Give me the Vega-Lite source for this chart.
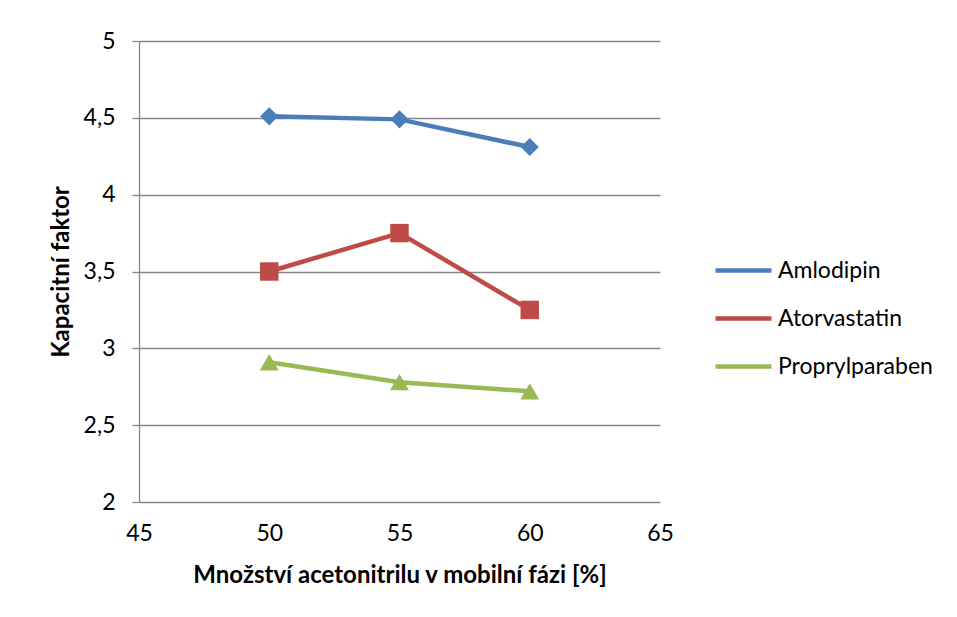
{
  "$schema": "https://vega.github.io/schema/vega-lite/v6.json",
  "width": 521,
  "height": 461,
  "autosize": {"type": "none"},
  "padding": {"left": 139, "top": 41, "right": 297, "bottom": 115},
  "background": "white",
  "config": {
    "locale": {"number": {"decimal": ",", "thousands": " ", "grouping": [3], "currency": ["", " Kč"]}},
    "font": "Lato",
    "view": {"stroke": null}
  },
  "data": {
    "values": [
      {"acn": 50, "k": 4.51, "series": "Amlodipin"},
      {"acn": 55, "k": 4.49, "series": "Amlodipin"},
      {"acn": 60, "k": 4.31, "series": "Amlodipin"},
      {"acn": 50, "k": 3.50, "series": "Atorvastatin"},
      {"acn": 55, "k": 3.75, "series": "Atorvastatin"},
      {"acn": 60, "k": 3.25, "series": "Atorvastatin"},
      {"acn": 50, "k": 2.91, "series": "Proprylparaben"},
      {"acn": 55, "k": 2.78, "series": "Proprylparaben"},
      {"acn": 60, "k": 2.72, "series": "Proprylparaben"}
    ]
  },
  "encoding": {
    "x": {
      "field": "acn", "type": "quantitative",
      "scale": {"domain": [45, 65], "nice": false, "zero": false},
      "axis": {
        "values": [45, 50, 55, 60, 65],
        "title": "Množství acetonitrilu v mobilní fázi [%]",
        "grid": false, "ticks": false, "domain": false,
        "labelFlush": false,
        "labelFontSize": 23, "labelPadding": 20, "labelColor": "black",
        "titleFontSize": 24, "titleFontWeight": "bold", "titleColor": "black", "titlePadding": 18
      }
    },
    "y": {
      "field": "k", "type": "quantitative",
      "scale": {"domain": [2, 5], "nice": false, "zero": false},
      "axis": {
        "values": [2, 2.5, 3, 3.5, 4, 4.5, 5],
        "format": ".1~f",
        "title": "Kapacitní faktor",
        "grid": true, "gridColor": "#868686", "gridWidth": 1.3,
        "domainColor": "#868686", "domainWidth": 1.3,
        "tickColor": "#868686", "tickSize": 7, "tickWidth": 1.3,
        "labelFontSize": 23, "labelPadding": 17, "labelColor": "black",
        "titleFontSize": 24, "titleFontWeight": "bold", "titleColor": "black", "titlePadding": 10
      }
    }
  },
  "layer": [
    {
      "mark": {"type": "line", "strokeWidth": 4.5},
      "encoding": {
        "color": {
          "field": "series", "type": "nominal",
          "scale": {"domain": ["Amlodipin", "Atorvastatin", "Proprylparaben"], "range": ["#4A7EBB", "#BE4B48", "#98B954"]},
          "legend": {
            "title": null, "orient": "none", "legendX": 574, "legendY": 199,
            "labelFontSize": 23, "labelColor": "black", "labelOffset": 4,
            "rowPadding": 5, "symbolType": "stroke", "symbolSize": 3136, "symbolStrokeWidth": 4.5
          }
        }
      }
    },
    {
      "transform": [{"filter": "datum.series === 'Amlodipin'"}],
      "mark": {"type": "point", "filled": true, "opacity": 1, "size": 330, "shape": "diamond", "color": "#4A7EBB"}
    },
    {
      "transform": [{"filter": "datum.series === 'Atorvastatin'"}],
      "mark": {"type": "point", "filled": true, "opacity": 1, "size": 340, "shape": "square", "color": "#BE4B48"}
    },
    {
      "transform": [{"filter": "datum.series === 'Proprylparaben'"}],
      "mark": {"type": "point", "filled": true, "opacity": 1, "size": 360, "shape": "triangle-up", "color": "#98B954"}
    }
  ]
}
